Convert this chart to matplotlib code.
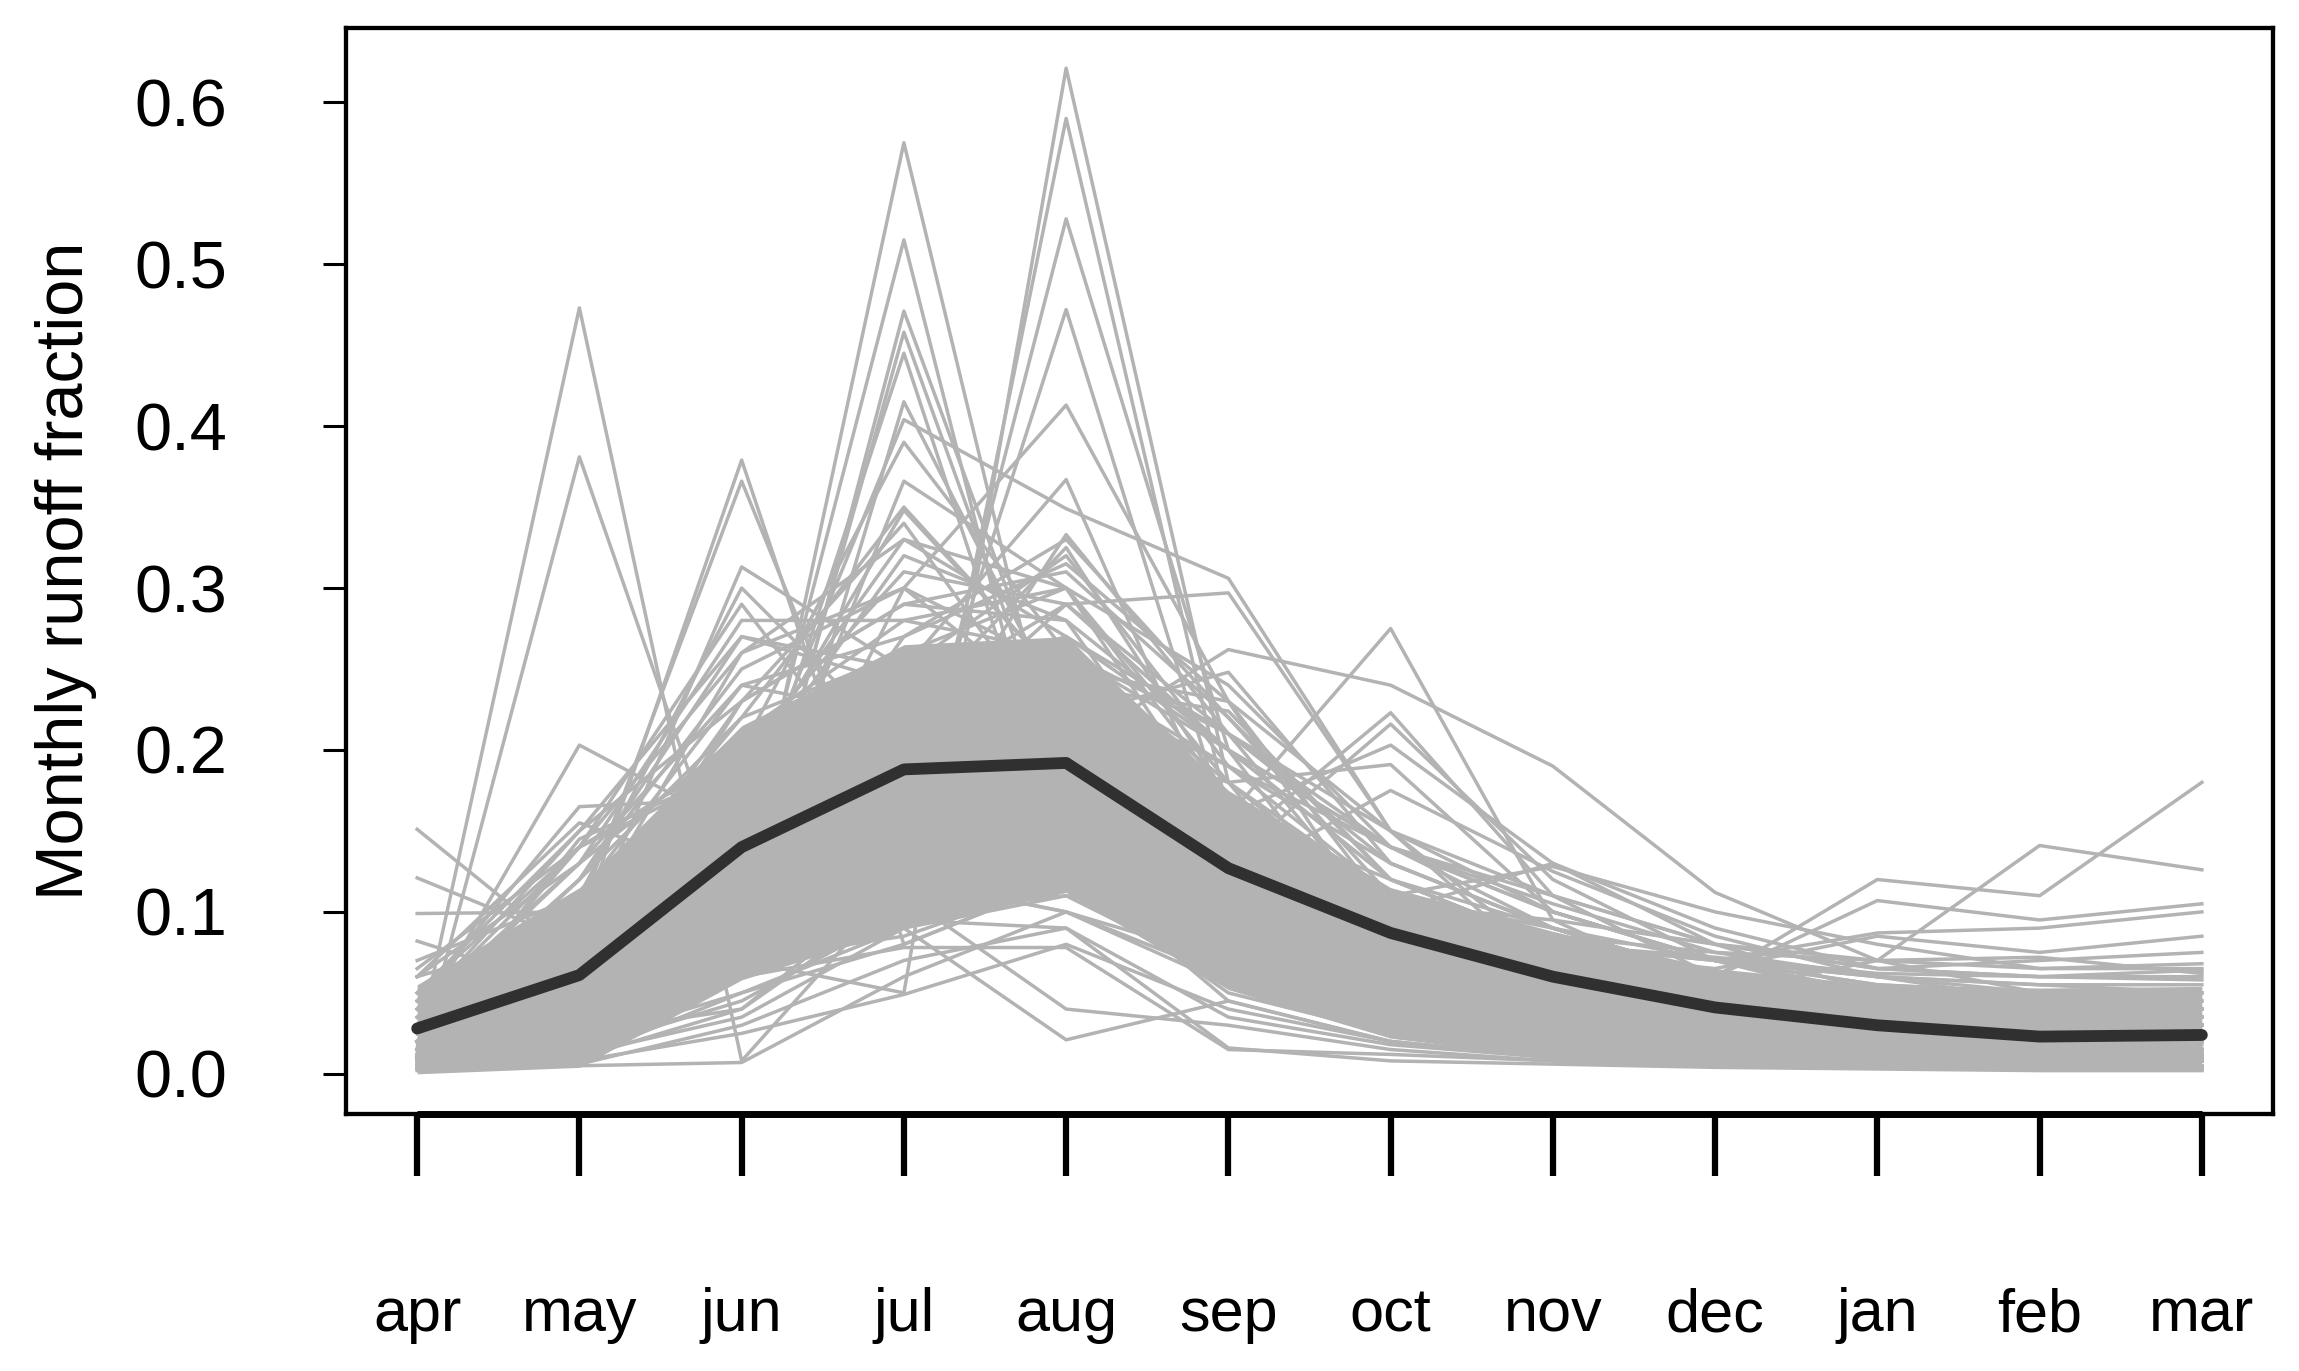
import matplotlib
matplotlib.use("Agg")
import matplotlib.pyplot as plt
import numpy as np

plt.rcParams['font.family'] = ['Liberation Sans', 'DejaVu Sans']

months = ['apr', 'may', 'jun', 'jul', 'aug', 'sep', 'oct', 'nov', 'dec', 'jan', 'feb', 'mar']

# ensemble mean (thick dark line)
mean_frac = [0.028, 0.061, 0.140, 0.188, 0.192, 0.127, 0.087, 0.060, 0.041, 0.030, 0.023, 0.024]

# dense core of the basin curves, read as lower / upper edge per month
band_lo = [0.000, 0.004, 0.058, 0.090, 0.112, 0.052, 0.022, 0.010, 0.004, 0.003, 0.003, 0.003]
band_hi = [0.055, 0.115, 0.215, 0.265, 0.270, 0.175, 0.115, 0.088, 0.065, 0.055, 0.053, 0.054]

# individual basin curves that stick out of the core
peaks_may = [
    [0.016, 0.473, 0.008, 0.120, 0.200, 0.100, 0.050, 0.030, 0.020, 0.015, 0.012, 0.010],
    [0.004, 0.381, 0.093, 0.170, 0.160, 0.070, 0.040, 0.025, 0.015, 0.010, 0.008, 0.008],
    [0.030, 0.203, 0.150, 0.160, 0.140, 0.090, 0.050, 0.030, 0.020, 0.015, 0.012, 0.012],
    [0.045, 0.165, 0.170, 0.140, 0.150, 0.100, 0.060, 0.040, 0.030, 0.020, 0.020, 0.020],
    [0.060, 0.155, 0.120, 0.130, 0.120, 0.090, 0.070, 0.050, 0.040, 0.030, 0.030, 0.030],
    [0.020, 0.145, 0.190, 0.210, 0.180, 0.110, 0.070, 0.045, 0.030, 0.022, 0.020, 0.020],
]
peaks_jun = [
    [0.010, 0.090, 0.379, 0.080, 0.120, 0.090, 0.050, 0.030, 0.020, 0.015, 0.010, 0.010],
    [0.012, 0.100, 0.366, 0.120, 0.100, 0.070, 0.040, 0.030, 0.020, 0.015, 0.012, 0.010],
    [0.020, 0.080, 0.313, 0.250, 0.180, 0.100, 0.060, 0.040, 0.030, 0.020, 0.020, 0.020],
    [0.030, 0.110, 0.300, 0.200, 0.140, 0.080, 0.050, 0.030, 0.020, 0.015, 0.015, 0.015],
    [0.025, 0.140, 0.290, 0.160, 0.220, 0.110, 0.060, 0.040, 0.030, 0.020, 0.020, 0.020],
    [0.040, 0.150, 0.270, 0.240, 0.180, 0.120, 0.080, 0.050, 0.040, 0.030, 0.025, 0.025],
]
peaks_jul = [
    [0.005, 0.030, 0.110, 0.575, 0.160, 0.080, 0.040, 0.025, 0.015, 0.010, 0.008, 0.008],
    [0.008, 0.050, 0.130, 0.515, 0.120, 0.060, 0.035, 0.020, 0.012, 0.010, 0.008, 0.008],
    [0.010, 0.040, 0.090, 0.471, 0.200, 0.090, 0.050, 0.030, 0.020, 0.015, 0.010, 0.010],
    [0.006, 0.035, 0.100, 0.458, 0.180, 0.080, 0.045, 0.030, 0.020, 0.012, 0.010, 0.010],
    [0.010, 0.060, 0.140, 0.445, 0.140, 0.070, 0.040, 0.025, 0.018, 0.012, 0.010, 0.010],
    [0.012, 0.050, 0.080, 0.415, 0.220, 0.100, 0.050, 0.030, 0.020, 0.015, 0.012, 0.012],
    [0.015, 0.070, 0.160, 0.404, 0.349, 0.306, 0.150, 0.060, 0.030, 0.020, 0.015, 0.015],
    [0.020, 0.080, 0.200, 0.390, 0.260, 0.120, 0.060, 0.035, 0.025, 0.018, 0.015, 0.015],
    [0.015, 0.060, 0.120, 0.366, 0.300, 0.150, 0.070, 0.040, 0.030, 0.020, 0.015, 0.015],
    [0.020, 0.090, 0.180, 0.348, 0.240, 0.110, 0.060, 0.040, 0.030, 0.020, 0.015, 0.015],
    [0.010, 0.070, 0.230, 0.340, 0.200, 0.100, 0.050, 0.030, 0.020, 0.015, 0.012, 0.012],
]
peaks_aug = [
    [0.010, 0.020, 0.070, 0.050, 0.621, 0.180, 0.060, 0.030, 0.020, 0.015, 0.012, 0.010],
    [0.008, 0.030, 0.090, 0.100, 0.590, 0.160, 0.050, 0.025, 0.015, 0.010, 0.010, 0.008],
    [0.010, 0.040, 0.110, 0.140, 0.528, 0.200, 0.070, 0.035, 0.020, 0.015, 0.012, 0.010],
    [0.012, 0.050, 0.120, 0.160, 0.472, 0.150, 0.060, 0.030, 0.020, 0.015, 0.012, 0.012],
    [0.015, 0.040, 0.100, 0.300, 0.413, 0.230, 0.080, 0.040, 0.025, 0.018, 0.015, 0.012],
    [0.010, 0.060, 0.150, 0.250, 0.367, 0.140, 0.070, 0.040, 0.025, 0.018, 0.015, 0.015],
    [0.020, 0.070, 0.140, 0.180, 0.333, 0.210, 0.090, 0.050, 0.030, 0.020, 0.018, 0.015],
    [0.015, 0.080, 0.170, 0.220, 0.325, 0.170, 0.080, 0.045, 0.030, 0.020, 0.018, 0.015],
    [0.012, 0.050, 0.130, 0.270, 0.315, 0.230, 0.100, 0.050, 0.030, 0.020, 0.015, 0.015],
]
peaks_autumn = [
    [0.012, 0.060, 0.140, 0.200, 0.290, 0.297, 0.150, 0.070, 0.040, 0.025, 0.020, 0.020],
    [0.015, 0.040, 0.090, 0.150, 0.200, 0.159, 0.275, 0.095, 0.050, 0.030, 0.025, 0.020],
    [0.020, 0.050, 0.100, 0.160, 0.200, 0.262, 0.240, 0.190, 0.112, 0.070, 0.050, 0.040],
    [0.010, 0.030, 0.080, 0.120, 0.180, 0.140, 0.223, 0.110, 0.060, 0.040, 0.030, 0.030],
    [0.015, 0.045, 0.090, 0.140, 0.170, 0.130, 0.216, 0.120, 0.070, 0.045, 0.035, 0.030],
    [0.012, 0.040, 0.100, 0.150, 0.190, 0.160, 0.203, 0.130, 0.080, 0.050, 0.040, 0.035],
    [0.020, 0.060, 0.110, 0.170, 0.210, 0.180, 0.191, 0.100, 0.070, 0.050, 0.040, 0.035],
    [0.015, 0.050, 0.100, 0.130, 0.160, 0.120, 0.175, 0.125, 0.085, 0.060, 0.045, 0.040],
    [0.010, 0.040, 0.120, 0.160, 0.220, 0.248, 0.130, 0.090, 0.060, 0.040, 0.030, 0.030],
    [0.015, 0.050, 0.110, 0.170, 0.240, 0.224, 0.120, 0.080, 0.050, 0.035, 0.030, 0.025],
    [0.020, 0.070, 0.150, 0.200, 0.260, 0.200, 0.140, 0.105, 0.075, 0.060, 0.050, 0.045],
]
winter_tail = [
    [0.010, 0.030, 0.080, 0.120, 0.150, 0.100, 0.070, 0.080, 0.060, 0.120, 0.110, 0.180],
    [0.010, 0.030, 0.070, 0.110, 0.130, 0.090, 0.060, 0.050, 0.050, 0.070, 0.141, 0.126],
    [0.015, 0.040, 0.080, 0.100, 0.120, 0.090, 0.080, 0.070, 0.060, 0.107, 0.095, 0.105],
    [0.020, 0.050, 0.090, 0.110, 0.120, 0.100, 0.090, 0.080, 0.070, 0.087, 0.090, 0.100],
    [0.015, 0.045, 0.085, 0.100, 0.110, 0.095, 0.085, 0.075, 0.065, 0.085, 0.075, 0.085],
    [0.020, 0.060, 0.100, 0.120, 0.130, 0.110, 0.100, 0.130, 0.090, 0.065, 0.070, 0.075],
    [0.015, 0.050, 0.090, 0.110, 0.120, 0.100, 0.110, 0.128, 0.100, 0.080, 0.065, 0.068],
    [0.020, 0.050, 0.100, 0.120, 0.130, 0.110, 0.095, 0.085, 0.075, 0.070, 0.072, 0.062],
    [0.030, 0.070, 0.110, 0.130, 0.140, 0.120, 0.105, 0.095, 0.080, 0.065, 0.060, 0.058],
    [0.025, 0.060, 0.100, 0.115, 0.125, 0.105, 0.090, 0.080, 0.072, 0.062, 0.060, 0.064],
]
low_lines = [
    [0.003, 0.005, 0.007, 0.060, 0.100, 0.060, 0.030, 0.015, 0.008, 0.005, 0.004, 0.004],
    [0.005, 0.008, 0.025, 0.049, 0.080, 0.040, 0.020, 0.010, 0.006, 0.004, 0.003, 0.003],
    [0.008, 0.012, 0.035, 0.090, 0.021, 0.045, 0.020, 0.010, 0.006, 0.004, 0.003, 0.003],
    [0.004, 0.010, 0.040, 0.110, 0.040, 0.030, 0.015, 0.008, 0.005, 0.004, 0.003, 0.003],
    [0.006, 0.015, 0.060, 0.078, 0.078, 0.015, 0.012, 0.008, 0.005, 0.004, 0.003, 0.003],
    [0.002, 0.006, 0.030, 0.070, 0.090, 0.016, 0.008, 0.006, 0.004, 0.003, 0.002, 0.002],
    [0.151, 0.070, 0.090, 0.110, 0.130, 0.070, 0.040, 0.025, 0.015, 0.010, 0.008, 0.008],
    [0.121, 0.080, 0.120, 0.140, 0.120, 0.080, 0.050, 0.030, 0.020, 0.015, 0.012, 0.010],
    [0.099, 0.100, 0.140, 0.150, 0.140, 0.090, 0.060, 0.040, 0.025, 0.018, 0.015, 0.012],
    [0.082, 0.050, 0.100, 0.130, 0.140, 0.090, 0.050, 0.030, 0.020, 0.015, 0.010, 0.010],
    [0.005, 0.020, 0.050, 0.080, 0.120, 0.050, 0.025, 0.012, 0.006, 0.004, 0.003, 0.003],
    [0.010, 0.030, 0.060, 0.090, 0.110, 0.060, 0.030, 0.015, 0.008, 0.005, 0.004, 0.004],
    [0.004, 0.015, 0.045, 0.100, 0.130, 0.045, 0.020, 0.010, 0.005, 0.004, 0.003, 0.003],
    [0.020, 0.040, 0.070, 0.085, 0.120, 0.070, 0.035, 0.020, 0.010, 0.007, 0.005, 0.005],
    [0.010, 0.025, 0.040, 0.120, 0.100, 0.055, 0.030, 0.015, 0.008, 0.006, 0.005, 0.004],
    [0.012, 0.018, 0.065, 0.095, 0.090, 0.035, 0.018, 0.010, 0.006, 0.004, 0.003, 0.003],
]
mid_lines = [
    [0.030, 0.120, 0.250, 0.300, 0.220, 0.150, 0.090, 0.060, 0.040, 0.030, 0.025, 0.025],
    [0.020, 0.100, 0.210, 0.280, 0.300, 0.170, 0.100, 0.070, 0.050, 0.035, 0.030, 0.030],
    [0.040, 0.130, 0.240, 0.220, 0.270, 0.200, 0.120, 0.080, 0.050, 0.040, 0.030, 0.030],
    [0.050, 0.140, 0.200, 0.260, 0.250, 0.190, 0.130, 0.090, 0.060, 0.045, 0.040, 0.040],
    [0.015, 0.060, 0.180, 0.320, 0.280, 0.140, 0.080, 0.050, 0.030, 0.020, 0.018, 0.018],
    [0.025, 0.090, 0.230, 0.290, 0.310, 0.220, 0.110, 0.060, 0.040, 0.030, 0.025, 0.025],
    [0.010, 0.050, 0.160, 0.230, 0.290, 0.210, 0.140, 0.100, 0.070, 0.050, 0.040, 0.035],
    [0.035, 0.110, 0.190, 0.210, 0.260, 0.180, 0.110, 0.070, 0.050, 0.040, 0.035, 0.030],
    [0.045, 0.080, 0.150, 0.180, 0.230, 0.160, 0.120, 0.090, 0.060, 0.050, 0.045, 0.045],
    [0.060, 0.090, 0.130, 0.170, 0.190, 0.140, 0.110, 0.090, 0.070, 0.055, 0.050, 0.050],
    [0.008, 0.030, 0.080, 0.120, 0.200, 0.100, 0.060, 0.040, 0.025, 0.018, 0.015, 0.012],
    [0.005, 0.020, 0.060, 0.100, 0.170, 0.080, 0.040, 0.020, 0.012, 0.008, 0.006, 0.005],
    [0.003, 0.010, 0.050, 0.090, 0.150, 0.060, 0.030, 0.015, 0.008, 0.005, 0.004, 0.004],
    [0.070, 0.110, 0.160, 0.140, 0.160, 0.120, 0.100, 0.080, 0.070, 0.060, 0.055, 0.055],
    [0.020, 0.090, 0.260, 0.330, 0.270, 0.160, 0.090, 0.060, 0.040, 0.030, 0.025, 0.025],
    [0.030, 0.100, 0.220, 0.350, 0.240, 0.150, 0.090, 0.060, 0.040, 0.030, 0.025, 0.025],
    [0.025, 0.120, 0.270, 0.250, 0.320, 0.190, 0.110, 0.070, 0.050, 0.035, 0.030, 0.030],
    [0.015, 0.080, 0.200, 0.310, 0.290, 0.200, 0.120, 0.080, 0.050, 0.040, 0.035, 0.035],
    [0.035, 0.130, 0.280, 0.280, 0.260, 0.210, 0.130, 0.090, 0.060, 0.045, 0.040, 0.040],
    [0.010, 0.070, 0.190, 0.330, 0.300, 0.180, 0.100, 0.070, 0.045, 0.035, 0.030, 0.030],
    [0.020, 0.110, 0.240, 0.270, 0.330, 0.220, 0.120, 0.080, 0.050, 0.040, 0.035, 0.035],
    [0.050, 0.150, 0.230, 0.290, 0.280, 0.200, 0.140, 0.100, 0.070, 0.055, 0.050, 0.050],
    [0.040, 0.140, 0.260, 0.300, 0.250, 0.230, 0.150, 0.100, 0.070, 0.060, 0.055, 0.050],
    [0.030, 0.120, 0.220, 0.260, 0.300, 0.240, 0.140, 0.090, 0.060, 0.050, 0.045, 0.040],
    [0.060, 0.130, 0.210, 0.240, 0.270, 0.210, 0.150, 0.110, 0.080, 0.065, 0.060, 0.060],
    [0.065, 0.140, 0.190, 0.220, 0.240, 0.190, 0.140, 0.110, 0.080, 0.070, 0.065, 0.065],
]

yticks = [0.0, 0.1, 0.2, 0.3, 0.4, 0.5, 0.6]

grey = '#b3b3b3'
x = np.arange(len(months))

fig = plt.figure(figsize=(22.99, 13.71), dpi=100)
ax = fig.add_axes([0.1504, 0.18745, 0.8384, 0.7921])

ax.fill_between(x, band_lo, band_hi, color=grey, lw=0)
for group in [low_lines, mid_lines, winter_tail, peaks_may, peaks_jun,
              peaks_jul, peaks_aug, peaks_autumn]:
    for row in group:
        ax.plot(x, row, color=grey, lw=2.5)

ax.plot(x, mean_frac, color='#303030', lw=8.5,
        solid_capstyle='round', solid_joinstyle='round')

ax.set_xlim(-0.44, 11.44)
ax.set_ylim(-0.0248, 0.6458)

for s in ax.spines.values():
    s.set_linewidth(3.1)

# R style axis: thick line from first to last tick
ax.plot([x[0], x[-1]], [0, 0], transform=ax.get_xaxis_transform(),
        color='black', lw=5, clip_on=False, solid_capstyle='butt')

ax.set_xticks(x)
ax.set_xticklabels(months, fontsize=44)
ax.tick_params(axis='x', length=44.6, width=4.5, pad=80)

ax.set_yticks(yticks)
ax.set_yticklabels(['%.1f' % v for v in yticks], fontsize=48)
ax.tick_params(axis='y', length=16.5, width=2.2, pad=69)

ax.set_ylabel('Monthly runoff fraction', fontsize=48)
ax.yaxis.set_label_coords(-0.129, 0.5)

fig.savefig('out.png', dpi=100)
